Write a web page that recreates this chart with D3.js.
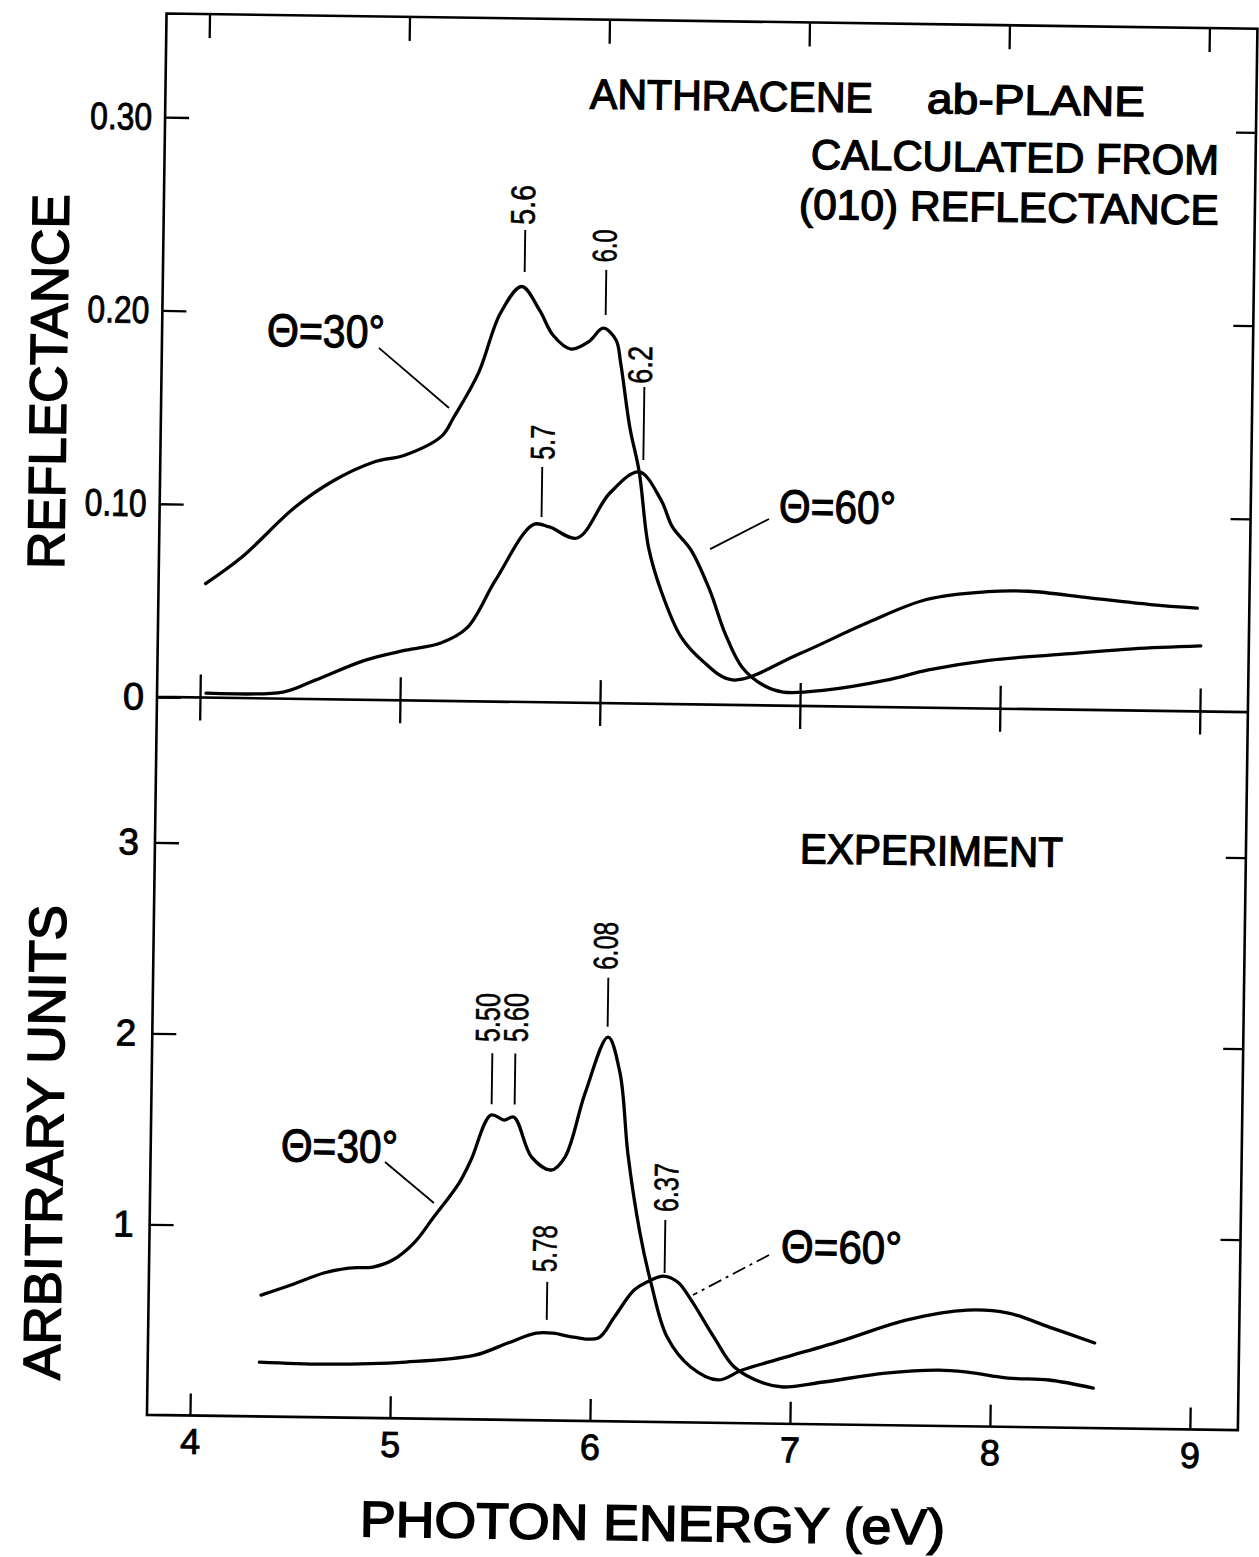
<!DOCTYPE html>
<html>
<head>
<meta charset="utf-8">
<script src="https://cdn.jsdelivr.net/npm/d3@7"></script>
<style>
  html, body { margin: 0; padding: 0; background: #fff; }
  svg { display: block; }
  text { font-family: "Liberation Sans", Arial, sans-serif; fill: #000; stroke: #000; stroke-width: 0.9px; }
</style>
</head>
<body>
<svg id="chart" width="1259" height="1557"></svg>
<script>
// ---------------- DATA ----------------
const xTicks = [4, 5, 6, 7, 8, 9];
const xTickLabels = ["4", "5", "6", "7", "8", "9"];
const topYTicks = [0, 0.10, 0.20, 0.30];
const topYTickLabels = ["0", "0.10", "0.20", "0.30"];
const botYTicks = [1, 2, 3];
const botYTickLabels = ["1", "2", "3"];

// Top panel: calculated reflectance, theta = 30 deg
const calc30E = [4.02, 4.20, 4.46, 4.65, 4.85, 5.01, 5.19, 5.25, 5.37, 5.475, 5.58, 5.67, 5.74, 5.83, 5.92, 5.99, 6.055, 6.08, 6.13, 6.18, 6.232, 6.30, 6.40, 6.506, 6.66, 6.994, 7.32, 7.625, 7.93, 8.135, 8.44, 8.745, 8.98];
const calc30R = [0.059, 0.073, 0.099, 0.113, 0.123, 0.127, 0.137, 0.147, 0.170, 0.201, 0.215, 0.203, 0.190, 0.183, 0.187, 0.194, 0.188, 0.176, 0.143, 0.120, 0.081, 0.058, 0.035, 0.023, 0.013, 0.027, 0.043, 0.056, 0.0605, 0.061, 0.058, 0.055, 0.0535];
// Top panel: calculated reflectance, theta = 60 deg
const calc60E = [4.03, 4.415, 4.575, 4.825, 5.025, 5.2, 5.33, 5.47, 5.655, 5.735, 5.875, 6.035, 6.18, 6.291, 6.35, 6.444, 6.541, 6.62, 6.707, 6.814, 6.915, 7.125, 7.43, 7.64, 7.94, 8.35, 8.66, 9.0];
const calc60R = [0.0024, 0.0035, 0.0099, 0.0206, 0.026, 0.030, 0.038, 0.063, 0.092, 0.0908, 0.0853, 0.1088, 0.1199, 0.1056, 0.0917, 0.080, 0.0593, 0.0372, 0.0198, 0.0106, 0.0071, 0.0084, 0.014, 0.0196, 0.025, 0.029, 0.032, 0.034];
// Bottom panel: experiment, theta = 30 deg
const exp30E = [4.347, 4.496, 4.659, 4.784, 4.904, 5.003, 5.107, 5.205, 5.329, 5.387, 5.484, 5.55, 5.599, 5.69, 5.789, 5.857, 5.953, 6.064, 6.126, 6.172, 6.237, 6.296, 6.38, 6.5, 6.638, 6.758, 6.961, 7.264, 7.573, 7.88, 8.085, 8.29, 8.518];
const exp30A = [0.638, 0.693, 0.758, 0.786, 0.793, 0.831, 0.921, 1.059, 1.239, 1.360, 1.597, 1.572, 1.588, 1.380, 1.314, 1.383, 1.719, 2.014, 1.827, 1.398, 0.991, 0.729, 0.448, 0.293, 0.227, 0.281, 0.347, 0.445, 0.554, 0.611, 0.598, 0.528, 0.448];
// Bottom panel: experiment, theta = 60 deg
const exp60E = [4.343, 4.666, 5.076, 5.42, 5.584, 5.726, 5.81, 5.911, 6.036, 6.115, 6.212, 6.296, 6.358, 6.429, 6.498, 6.614, 6.718, 6.864, 6.962, 7.166, 7.475, 7.739, 7.884, 8.087, 8.292, 8.514];
const exp60A = [0.287, 0.281, 0.298, 0.339, 0.405, 0.459, 0.460, 0.441, 0.438, 0.549, 0.692, 0.745, 0.767, 0.737, 0.643, 0.451, 0.296, 0.214, 0.195, 0.224, 0.275, 0.295, 0.286, 0.258, 0.251, 0.212];

// Peak annotations (label text, label position, leader line) in data units
const topPeakText = ["5.6", "6.0", "6.2", "5.7"];
const topPeakLabelE = [5.58, 5.9905, 6.1765, 5.6945];
const topPeakLabelV = [0.2572, 0.2366, 0.1753, 0.1345];
const topPeakLeaderE = [5.5935, 6.0015, 6.2, 5.695];
const topPeakLeaderV0 = [0.2442, 0.2242, 0.1639, 0.1218];
const topPeakLeaderV1 = [0.2225, 0.2009, 0.1261, 0.0959];
const topPeakLen = [40, 33, 38, 35];

const botPeakText = ["5.50", "5.60", "6.08", "5.78", "6.37"];
const botPeakLabelE = [5.46, 5.602, 6.045, 5.761, 6.364];
const botPeakLabelV = [2.107, 2.109, 2.491, 0.902, 1.230];
const botPeakLeaderE = [5.4865, 5.6015, 6.061, 5.777, 6.363];
const botPeakLeaderV0 = [1.921, 1.921, 2.325, 0.728, 1.060];
const botPeakLeaderV1 = [1.654, 1.654, 2.068, 0.529, 0.783];
const botPeakLen = [49, 49, 48, 47, 49];

// ---------------- LAYOUT ----------------
const frameL = 157, frameR = 1248, frameT = 21, frameM = 704.5, frameB = 1422.5;
const svg = d3.select("#chart");
const root = svg.append("g").attr("transform", "rotate(0.8,700,700)");

const x = d3.scaleLinear().domain([4, 9]).range([200, 1200]);
const yTop = d3.scaleLinear().domain([0, 0.3]).range([704.6, 124.7]);
const yBot = d3.scaleLinear().domain([0, 3]).range([1423, 850]);

// Frame
root.append("path")
  .attr("d", `M${frameL},${frameT}H${frameR}V${frameB}H${frameL}Z M${frameL},${frameM}H${frameR}`)
  .attr("fill", "none").attr("stroke", "#000").attr("stroke-width", 2.6);

function styleAxis(g, fs) {
  g.select(".domain").remove();
  g.selectAll("line").attr("stroke", "#000").attr("stroke-width", 2.3);
  g.selectAll("text").attr("font-family", '"Liberation Sans", Arial, sans-serif')
    .attr("font-size", fs).attr("fill", "#000");
}

// top edge ticks
root.append("g").attr("transform", `translate(0,${frameT})`)
  .call(d3.axisTop(x).tickValues(xTicks).tickSize(-24).tickFormat(""))
  .call(g => styleAxis(g, 10));
// middle line ticks (crossing)
root.append("g").attr("transform", `translate(0,${frameM})`)
  .call(d3.axisBottom(x).tickValues(xTicks).tickSize(-23).tickFormat(""))
  .call(g => styleAxis(g, 10));
root.append("g").attr("transform", `translate(0,${frameM})`)
  .call(d3.axisTop(x).tickValues(xTicks).tickSize(-23).tickFormat(""))
  .call(g => styleAxis(g, 10));
// bottom ticks + labels
root.append("g").attr("transform", `translate(0,${frameB})`)
  .call(d3.axisBottom(x).tickValues(xTicks).tickSize(-22).tickPadding(13)
    .tickFormat((d, i) => xTickLabels[i]))
  .call(g => styleAxis(g, 36));

// left axes
root.append("g").attr("transform", `translate(${frameL},0)`)
  .call(d3.axisLeft(yTop).tickValues(topYTicks).tickSize(-24).tickPadding(13)
    .tickFormat((d, i) => topYTickLabels[i]))
  .call(g => styleAxis(g, 38))
  .call(g => g.selectAll("text").filter(t => t !== 0)
    .attr("textLength", 62).attr("lengthAdjust", "spacingAndGlyphs"));
root.append("g").attr("transform", `translate(${frameL},0)`)
  .call(d3.axisLeft(yBot).tickValues(botYTicks).tickSize(-24).tickPadding(16)
    .tickFormat((d, i) => botYTickLabels[i]))
  .call(g => styleAxis(g, 37));
// right axes
root.append("g").attr("transform", `translate(${frameR},0)`)
  .call(d3.axisRight(yTop).tickValues(topYTicks.slice(1)).tickSize(-20).tickFormat(""))
  .call(g => styleAxis(g, 10));
root.append("g").attr("transform", `translate(${frameR},0)`)
  .call(d3.axisRight(yBot).tickValues(botYTicks).tickSize(-20).tickFormat(""))
  .call(g => styleAxis(g, 10));

// Curves
function drawCurve(E, V, yScale) {
  const pts = E.map((e, i) => [e, V[i]]);
  const line = d3.line().x(d => x(d[0])).y(d => yScale(d[1]))
    .curve(d3.curveCatmullRom.alpha(0.5));
  root.append("path").attr("d", line(pts))
    .attr("fill", "none").attr("stroke", "#000").attr("stroke-width", 3.3)
    .attr("stroke-linejoin", "round").attr("stroke-linecap", "round");
}
drawCurve(calc30E, calc30R, yTop);
drawCurve(calc60E, calc60R, yTop);
drawCurve(exp30E, exp30A, yBot);
drawCurve(exp60E, exp60A, yBot);

// Peak labels
function drawPeaks(text, lE, lV, kE, kV0, kV1, len, yScale) {
  text.forEach((t, i) => {
    root.append("text")
      .attr("transform", `translate(${x(lE[i])},${yScale(lV[i])}) rotate(-90)`)
      .attr("text-anchor", "middle").attr("dominant-baseline", "central")
      .attr("font-size", 34).attr("textLength", len[i]).attr("lengthAdjust", "spacingAndGlyphs")
      .style("stroke-width", "0.6px")
      .text(t);
    root.append("line")
      .attr("x1", x(kE[i])).attr("x2", x(kE[i]))
      .attr("y1", yScale(kV0[i])).attr("y2", yScale(kV1[i]))
      .attr("stroke", "#000").attr("stroke-width", 1.9);
  });
}
drawPeaks(topPeakText, topPeakLabelE, topPeakLabelV, topPeakLeaderE, topPeakLeaderV0, topPeakLeaderV1, topPeakLen, yTop);
drawPeaks(botPeakText, botPeakLabelE, botPeakLabelV, botPeakLeaderE, botPeakLeaderV0, botPeakLeaderV1, botPeakLen, yBot);

// Curve labels (theta) with leader lines
const thetaText = ["Θ=30°", "Θ=60°", "Θ=30°", "Θ=60°"];
const thetaE = [4.309, 6.8815, 4.436, 6.9435];
const thetaV = [0.1823, 0.095, 1.340, 0.848];
const thetaPanel = ["top", "top", "bot", "bot"];
const thetaLen = [118, 117, 117, 121];
const thetaLeaderE0 = [4.87, 6.8325, 4.9575, 6.884];
const thetaLeaderV0 = [0.1822, 0.0965, 1.3435, 0.885];
const thetaLeaderE1 = [5.225, 6.54, 5.205, 6.5065];
const thetaLeaderV1 = [0.1516, 0.0805, 1.1325, 0.670];
const thetaLeaderDash = [null, null, null, "14,5,3,5"];

thetaText.forEach((t, i) => {
  const ys = thetaPanel[i] === "top" ? yTop : yBot;
  root.append("text").attr("x", x(thetaE[i])).attr("y", ys(thetaV[i]))
    .attr("font-size", 46).attr("textLength", thetaLen[i]).attr("lengthAdjust", "spacingAndGlyphs")
    .style("stroke-width", "1.1px")
    .text(t);
  root.append("line")
    .attr("x1", x(thetaLeaderE0[i])).attr("y1", ys(thetaLeaderV0[i]))
    .attr("x2", x(thetaLeaderE1[i])).attr("y2", ys(thetaLeaderV1[i]))
    .attr("stroke", "#000").attr("stroke-width", 1.8)
    .attr("stroke-dasharray", thetaLeaderDash[i]);
});

// Panel captions
const capText = ["ANTHRACENE", "ab-PLANE", "CALCULATED FROM", "(010) REFLECTANCE", "EXPERIMENT"];
const capE = [5.9075, 7.593, 9.057, 9.06, 7.01];
const capV = [0.3076, 0.3076, 0.2779, 0.252, 2.938];
const capPanel = ["top", "top", "top", "top", "bot"];
const capAnchor = ["start", "start", "end", "end", "start"];
const capLen = [283, 218, 408, 420, 263];
capText.forEach((t, i) => {
  const ys = capPanel[i] === "top" ? yTop : yBot;
  root.append("text").attr("x", x(capE[i])).attr("y", ys(capV[i]))
    .attr("text-anchor", capAnchor[i]).attr("font-size", 42)
    .attr("textLength", capLen[i]).attr("lengthAdjust", "spacingAndGlyphs")
    .style("stroke-width", "1.3px")
    .text(t);
});

// Axis titles
root.append("text")
  .attr("transform", `translate(44,${(frameT + frameM) / 2 + 28}) rotate(-90)`)
  .attr("text-anchor", "middle").attr("dominant-baseline", "central")
  .attr("font-size", 52).attr("textLength", 375).attr("lengthAdjust", "spacingAndGlyphs")
  .style("stroke-width", "1.6px")
  .text("REFLECTANCE");
root.append("text")
  .attr("transform", `translate(51,${(frameM + frameB) / 2 + 88}) rotate(-90)`)
  .attr("text-anchor", "middle").attr("dominant-baseline", "central")
  .attr("font-size", 52).attr("textLength", 475).attr("lengthAdjust", "spacingAndGlyphs")
  .style("stroke-width", "1.6px")
  .text("ARBITRARY UNITS");
root.append("text")
  .attr("x", x(6.32)).attr("y", 1541)
  .attr("text-anchor", "middle")
  .attr("font-size", 50).attr("textLength", 585).attr("lengthAdjust", "spacingAndGlyphs")
  .style("stroke-width", "1.6px")
  .text("PHOTON ENERGY (eV)");
</script>
</body>
</html>
